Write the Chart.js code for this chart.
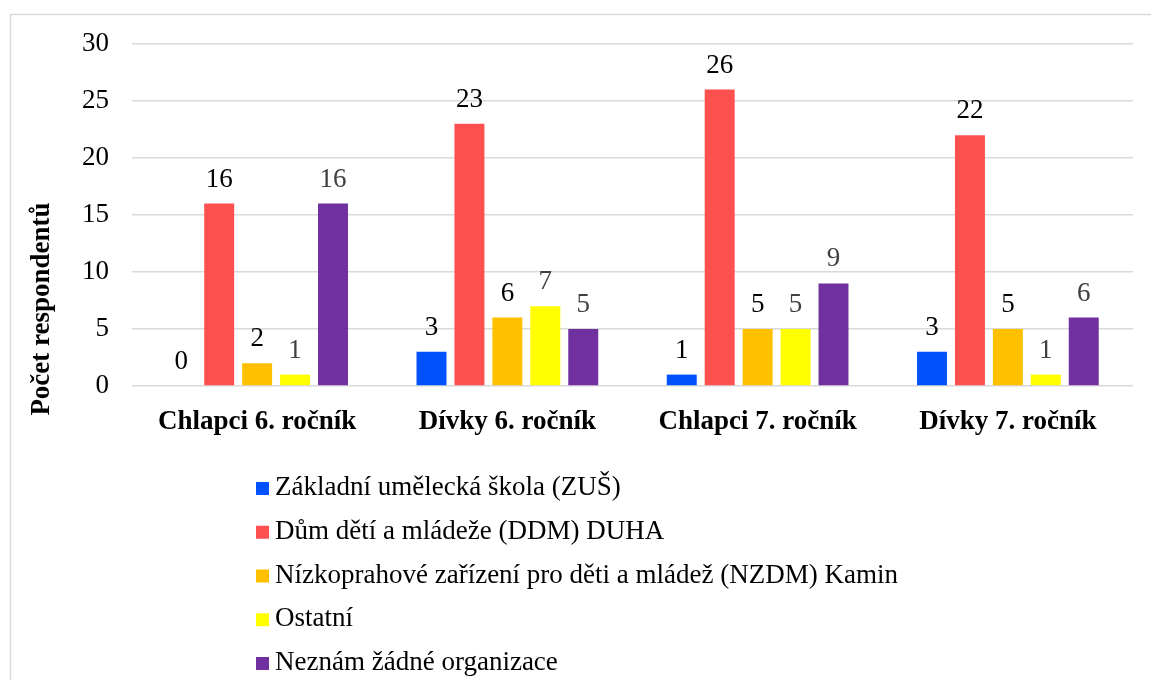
<!DOCTYPE html>
<html>
<head>
<meta charset="utf-8">
<script src="https://cdn.jsdelivr.net/npm/chart.js@4/dist/chart.umd.min.js"></script>
<style>
  body { margin: 0; background: #fff; }
  #wrap { width: 1151px; height: 680px; }
</style>
</head>
<body>
<div id="wrap"><canvas id="graf" width="1151" height="680"></canvas></div>
<script>
// categorias y series
const kategorie = ["Chlapci 6. ročník", "Dívky 6. ročník", "Chlapci 7. ročník", "Dívky 7. ročník"];
const nazvySerii = [
    "Základní umělecká škola (ZUŠ)",
    "Dům dětí a mládeže (DDM) DUHA",
    "Nízkoprahové zařízení pro děti a mládež (NZDM) Kamin",
    "Ostatní",
    "Neznám žádné organizace"
];
const zus = [0, 3, 1, 3];
const ddm = [16, 23, 26, 22];
const nzdm = [2, 6, 5, 5];
const ostatni = [1, 7, 5, 1];
const neznam = [16, 5, 9, 6];
const yTicks = [0, 5, 10, 15, 20, 25, 30];

const barvy = ["#0052ff", "#ff5050", "#ffc000", "#ffff00", "#7030a0"];
const barvyPopisku = ["#000000", "#000000", "#000000", "#404040", "#404040"];
const pismo = '"Liberation Serif", "Times New Roman", serif';
const velikost = 27;

const hodnoty = [zus, ddm, nzdm, ostatni, neznam];

// ramecek, popis osy y, hodnoty nad sloupci a legenda
const kresleni = {
    id: "kresleni",
    beforeDraw(chart) {
        const ctx = chart.ctx;
        ctx.save();
        ctx.strokeStyle = "#d9d9d9";
        ctx.lineWidth = 1.5;
        ctx.strokeRect(10.5, 14.5, 1200, 700);
        ctx.restore();
    },
    afterDatasetsDraw(chart) {
        const ctx = chart.ctx;
        ctx.save();
        ctx.font = velikost + "px " + pismo;
        ctx.textAlign = "center";
        ctx.textBaseline = "middle";
        chart.data.datasets.forEach((ds, i) => {
            const meta = chart.getDatasetMeta(i);
            meta.data.forEach((bar, j) => {
                ctx.fillStyle = barvyPopisku[i];
                ctx.fillText(String(ds.data[j]), bar.x, bar.y - 24);
            });
        });

        // popis osy y
        ctx.save();
        ctx.translate(42, 309);
        ctx.rotate(-Math.PI / 2);
        ctx.font = "bold " + velikost + "px " + pismo;
        ctx.fillStyle = "#000";
        ctx.fillText("Počet respondentů", 0, 0);
        ctx.restore();

        // legenda pod grafem
        ctx.font = velikost + "px " + pismo;
        ctx.textAlign = "left";
        chart.data.datasets.forEach((ds, i) => {
            const y = 488 + i * 43.75;
            ctx.fillStyle = ds.backgroundColor;
            ctx.fillRect(256, y - 6, 13, 13);
            ctx.fillStyle = "#000";
            ctx.fillText(ds.label, 275, y);
        });
        ctx.restore();
    }
};

const ctx = document.getElementById("graf").getContext("2d");

new Chart(ctx, {
    type: "bar",
    data: {
        labels: kategorie,
        datasets: nazvySerii.map((nazev, i) => ({
            label: nazev,
            data: hodnoty[i],
            backgroundColor: barvy[i],
            barPercentage: 0.79,
            categoryPercentage: 0.758
        }))
    },
    options: {
        responsive: false,
        animation: false,
        layout: {
            padding: { left: 60, right: 18, top: 44, bottom: 234 }
        },
        plugins: {
            legend: { display: false },
            tooltip: { enabled: false }
        },
        scales: {
            x: {
                grid: { display: false },
                border: { display: false },
                ticks: {
                    color: "#000",
                    padding: 12,
                    font: { family: pismo, size: velikost, weight: "bold" }
                },
                afterFit(s) { s.height = 60; }
            },
            y: {
                min: 0,
                max: 30,
                afterBuildTicks(s) { s.ticks = yTicks.map(v => ({ value: v })); },
                grid: { color: "#d9d9d9", lineWidth: 1.5, drawTicks: false },
                border: { display: false },
                ticks: {
                    color: "#000",
                    padding: 23,
                    font: { family: pismo, size: velikost }
                },
                afterFit(s) { s.width = 72; }
            }
        }
    },
    plugins: [kresleni]
});
</script>
</body>
</html>
